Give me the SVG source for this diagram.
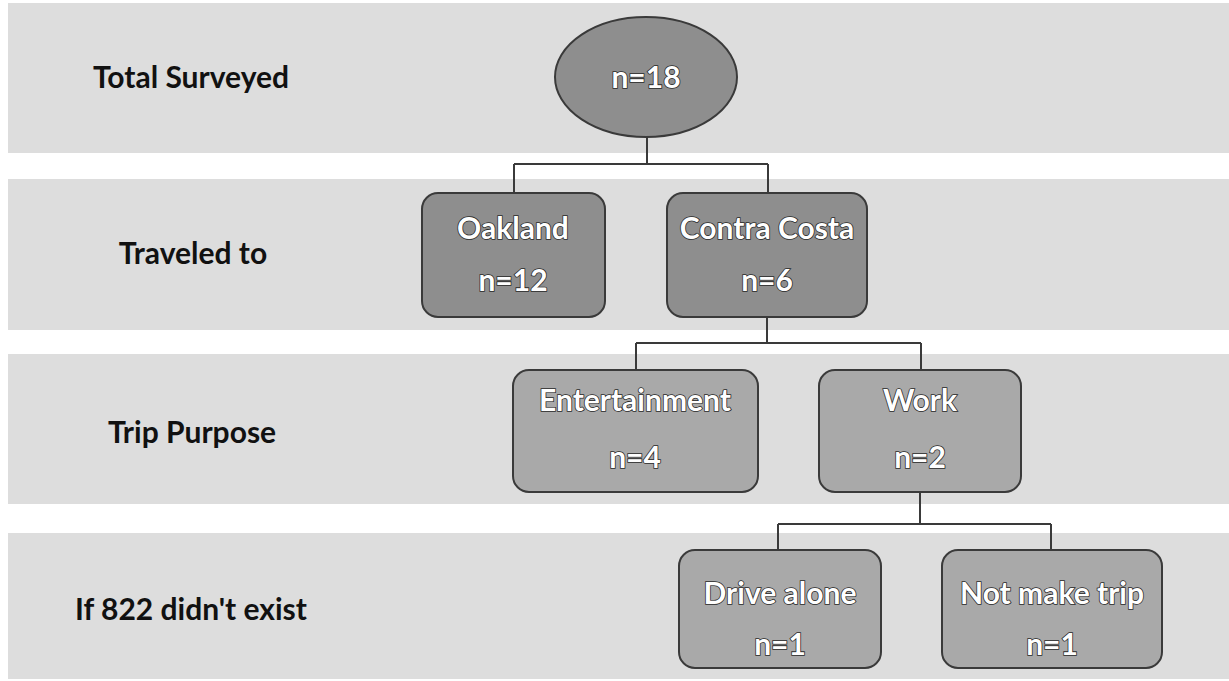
<svg xmlns="http://www.w3.org/2000/svg" width="1229" height="681" viewBox="0 0 1229 681">
<style>
.band{fill:#dddddd}
.lab{font-family:Lato,"Liberation Sans",sans-serif;font-weight:bold;font-size:30px;fill:#111;text-anchor:middle}
.dark{fill:#8e8e8e;stroke:#3a3a3a;stroke-width:2}
.light{fill:#a9a9a9;stroke:#3a3a3a;stroke-width:2}
.nt{font-family:Lato,"Liberation Sans",sans-serif;font-weight:bold;font-size:30px;fill:#fff;stroke:#2a2a2a;stroke-width:1.6;paint-order:stroke;text-anchor:middle}
.con{fill:none;stroke:#3a3a3a;stroke-width:2}
</style>
<rect width="1229" height="681" fill="#ffffff"/>
<g id="bands">
<rect class="band" x="8" y="3" width="1221" height="150"/>
<rect class="band" x="8" y="179" width="1221" height="151"/>
<rect class="band" x="8" y="354" width="1221" height="150"/>
<rect class="band" x="8" y="533" width="1221" height="146"/>
</g>
<g id="row-labels">
<text class="lab" x="191" y="88">Total Surveyed</text>
<text class="lab" x="193" y="264">Traveled to</text>
<text class="lab" x="192" y="443">Trip Purpose</text>
<text class="lab" x="191" y="620">If 822 didn't exist</text>
</g>
<g id="connectors">
<path class="con" d="M647 137 V164 M514 164 H768 M514 164 V193 M768 164 V193"/>
<path class="con" d="M767 317 V343 M636 343 H921 M636 343 V370 M921 343 V370"/>
<path class="con" d="M920 492 V524 M778 524 H1051 M778 524 V550 M1051 524 V550"/>
</g>
<g id="n-total">
<ellipse class="dark" cx="646" cy="77" rx="91" ry="60"/>
<text class="nt" x="646" y="88">n=18</text>
</g>
<g id="n-oakland">
<rect class="dark" x="422" y="193" width="183" height="124" rx="16"/>
<text class="nt" x="513" y="239">Oakland</text>
<text class="nt" x="513" y="291">n=12</text>
</g>
<g id="n-contra">
<rect class="dark" x="667" y="193" width="200" height="124" rx="16"/>
<text class="nt" x="767" y="239">Contra Costa</text>
<text class="nt" x="767" y="291">n=6</text>
</g>
<g id="n-entertainment">
<rect class="light" x="513" y="370" width="245" height="122" rx="16"/>
<text class="nt" x="635" y="411">Entertainment</text>
<text class="nt" x="635" y="468">n=4</text>
</g>
<g id="n-work">
<rect class="light" x="819" y="370" width="202" height="122" rx="16"/>
<text class="nt" x="920" y="411">Work</text>
<text class="nt" x="920" y="468">n=2</text>
</g>
<g id="n-drive">
<rect class="light" x="679" y="550" width="202" height="118" rx="16"/>
<text class="nt" x="780" y="604">Drive alone</text>
<text class="nt" x="780" y="655">n=1</text>
</g>
<g id="n-notmake">
<rect class="light" x="942" y="550" width="220" height="118" rx="16"/>
<text class="nt" x="1052" y="604">Not make trip</text>
<text class="nt" x="1052" y="655">n=1</text>
</g>
</svg>
